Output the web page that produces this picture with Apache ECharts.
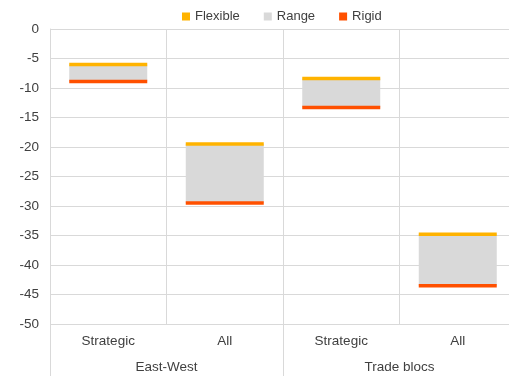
<!DOCTYPE html>
<html>
<head>
<meta charset="utf-8">
<script src="https://cdn.jsdelivr.net/npm/echarts@6/dist/echarts.min.js"></script>
<style>html,body{margin:0;padding:0;background:#fff;overflow:hidden;}#c{width:509px;height:376px;}</style>
</head>
<body>
<div id="c"></div>
<script>
const categories = ['Strategic', 'All', 'Strategic', 'All'];
const groups = ['East-West', 'Trade blocs'];
const flexible = [-6.0, -19.5, -8.4, -34.8];
const rigid = [-8.9, -29.5, -13.3, -43.5];
const yTicks = { min: -50, max: 0, interval: 5 };

const rangeVals = flexible.map((f, i) => +(rigid[i] - f).toFixed(2));
const font = 'Liberation Sans, Arial, sans-serif';
const txt = '#404040';
const gridCol = '#d9d9d9';

const chart = echarts.init(document.getElementById('c'), null, { renderer: 'canvas' });
chart.setOption({
  animation: false,
  textStyle: { fontFamily: font },
  legend: {
    top: 5, left: 177, itemWidth: 8, itemHeight: 8, itemGap: 24,
    icon: 'rect',
    textStyle: { fontSize: 13, color: txt, fontFamily: font },
    data: ['Flexible', 'Range', 'Rigid']
  },
  grid: { left: 50, width: 466, top: 29, height: 295, containLabel: false, outerBoundsMode: 'none' },
  xAxis: [
    {
      type: 'category', data: categories, position: 'bottom',
      axisLine: { show: false }, axisTick: { show: false },
      splitLine: { show: true, lineStyle: { color: gridCol, width: 1 } },
      axisLabel: { fontSize: 13.5, color: txt, margin: 10, fontFamily: font }
    },
    {
      type: 'category', data: groups, position: 'bottom',
      axisLine: { show: false },
      axisTick: { show: true, length: 52, lineStyle: { color: gridCol } },
      splitLine: { show: false },
      axisLabel: { fontSize: 13.5, color: txt, margin: 36, fontFamily: font }
    }
  ],
  yAxis: {
    type: 'value', min: yTicks.min, max: yTicks.max, interval: yTicks.interval,
    axisLine: { show: true, lineStyle: { color: gridCol } },
    axisTick: { show: false },
    splitLine: { lineStyle: { color: gridCol } },
    axisLabel: { fontSize: 13.5, color: txt, margin: 11, fontFamily: font }
  },
  series: [
    { name: 'base', type: 'bar', stack: 's', data: flexible, barWidth: 78,
      itemStyle: { color: 'rgba(0,0,0,0)' }, silent: true },
    { name: 'Range', type: 'bar', stack: 's', data: rangeVals, barWidth: 78,
      itemStyle: { color: '#d9d9d9' } },
    { name: 'Flexible', type: 'scatter', data: flexible, symbol: 'rect',
      symbolSize: [78, 3.5], itemStyle: { color: '#ffb300', opacity: 1 }, z: 5 },
    { name: 'Rigid', type: 'scatter', data: rigid, symbol: 'rect',
      symbolSize: [78, 3.5], itemStyle: { color: '#ff5000', opacity: 1 }, z: 5 }
  ]
});
</script>
</body>
</html>
